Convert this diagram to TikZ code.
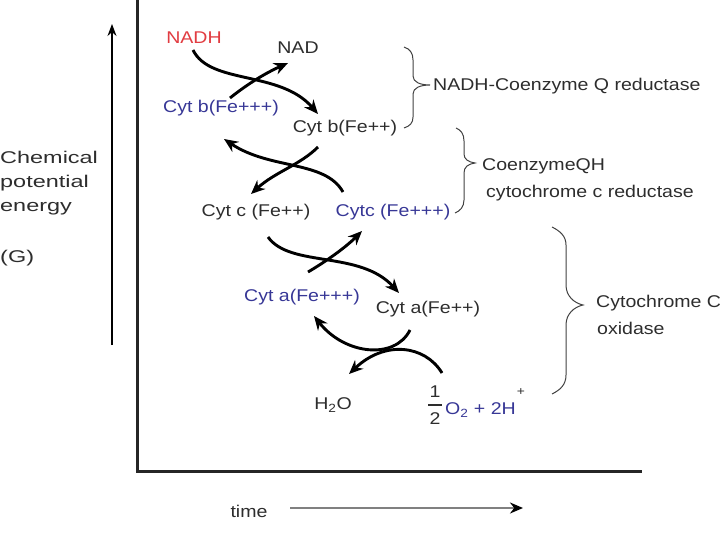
\documentclass[tikz,border=0pt]{standalone}
\usepackage{fontspec}
\setmainfont{Liberation Sans}[FakeStretch=1.15]
\newfontfamily\leftfont{Liberation Sans}[FakeStretch=1.38]
\usetikzlibrary{arrows.meta}
\definecolor{cblue}{RGB}{55,55,150}
\definecolor{cred}{RGB}{225,60,65}
\definecolor{ctext}{RGB}{45,45,45}
\begin{document}
\begin{tikzpicture}[x=1pt,y=-1pt,font=\fontsize{17}{19}\selectfont,
  lbl/.style={text=ctext,inner sep=0pt},
  blu/.style={text=cblue,inner sep=0pt},
  rx/.style={line width=2.9pt,-{Stealth[length=14pt,width=12pt]}},
  bracepath/.style={line width=1pt,draw=black!75},
  frame/.style={line width=3pt,draw=black!85}]
\useasboundingbox (0,0) rectangle (720,540);
% axes
\coordinate (ybot) at (112,345);
\coordinate (ytop) at (112,24);
\draw[line width=1.4pt,-{Stealth[length=12pt,width=9pt]}] (ybot) -- (ytop);
\coordinate (ftop) at (137,0);
\coordinate (fcorner) at (137,471);
\coordinate (fright) at (642,471);
\draw[frame] (ftop) -- (fcorner) -- (fright);
% left label
\node[lbl,anchor=west,font=\leftfont\fontsize{17}{19}\selectfont] (chem) at (0,157) {Chemical};
\node[lbl,anchor=west,font=\leftfont\fontsize{17}{19}\selectfont] (pot) at (0,183) {potential};
\node[lbl,anchor=west,font=\leftfont\fontsize{17}{19}\selectfont] (ener) at (0,209) {energy};
\node[lbl,anchor=west,font=\leftfont\fontsize{17}{19}\selectfont] (gG) at (0,258) {(G)};
% time
\node[lbl] (time) at (249,511) {time};
\coordinate (t1) at (290,508);
\coordinate (t2) at (523,508);
\draw[line width=2.6pt,draw=black!50,-{Stealth[length=13pt,width=11pt,black]}] (t1) -- (t2);
% species
\node[inner sep=0pt,text=cred] (nadh) at (194,38) {NADH};
\node[lbl] (nad) at (298,48) {NAD};
\node[blu] (cbp) at (221,108) {Cyt b(Fe+++)};
\node[lbl] (cbr) at (345,128) {Cyt b(Fe++)};
\node[lbl] (ccr) at (256,212) {Cyt c (Fe++)};
\node[blu] (ccp) at (393,212) {Cytc (Fe+++)};
\node[blu] (cap) at (302,297) {Cyt a(Fe+++)};
\node[lbl] (car) at (428,309) {Cyt a(Fe++)};
\node[lbl] (h2o) at (333,405) {H\textsubscript{2}O};
\node[lbl] (one) at (435,392) {1};
\node[lbl] (two) at (435,419) {2};
\coordinate (fb1) at (428,405);
\coordinate (fb2) at (442,405);
\draw[line width=1.2pt,draw=ctext] (fb1) -- (fb2);
\node[blu,anchor=west] (o2) at (445,410) {O\textsubscript{2} + 2H};
\node[lbl] (hplus) at (521,392) {\fontsize{12}{12}\selectfont +};
% enzyme labels
\node[lbl,anchor=west] (e1) at (433,86) {NADH-Coenzyme Q reductase};
\node[lbl,anchor=west] (e2a) at (482,166) {CoenzymeQH};
\node[lbl,anchor=west] (e2b) at (486,193) {cytochrome c reductase};
\node[lbl,anchor=west] (e3a) at (596,303) {Cytochrome C};
\node[lbl,anchor=west] (e3b) at (597,328) {oxidase};
% braces
\draw[bracepath] (404,47) .. controls (410,49) and (413,53) .. (413,60) -- (413,76)
  .. controls (413,82) and (420,85) .. (430,85)
  .. controls (420,85) and (413,88) .. (413,94) -- (413,117)
  .. controls (413,123) and (410,126) .. (404,128);
\draw[bracepath] (456,128) .. controls (461,130) and (464,134) .. (464,141) -- (464,154)
  .. controls (464,159) and (468,162) .. (475,163)
  .. controls (468,164) and (464,167) .. (464,173) -- (464,200)
  .. controls (464,207) and (460,211) .. (455,213);
\draw[bracepath] (552,227) .. controls (560,231) and (566,236) .. (566,245) -- (566,285)
  .. controls (566,296) and (574,303) .. (583,305)
  .. controls (574,307) and (566,314) .. (566,325) -- (566,375)
  .. controls (566,385) and (560,390) .. (552,394);
% reaction arrows
\coordinate (a1s) at (193,50);  \coordinate (a1e) at (318,114);
\coordinate (b1s) at (230,98);  \coordinate (b1e) at (288,63);
\draw[rx] (a1s) .. controls (210,85) and (280,70) .. (a1e);
\draw[rx] (b1s) .. controls (250,82) and (268,72) .. (b1e);
\coordinate (a2s) at (318,147); \coordinate (a2e) at (251,194);
\coordinate (b2s) at (343,192); \coordinate (b2e) at (224,139);
\draw[rx] (a2s) .. controls (300,165) and (275,172) .. (a2e);
\draw[rx] (b2s) .. controls (325,160) and (270,170) .. (b2e);
\coordinate (a3s) at (268,237); \coordinate (a3e) at (399,293);
\coordinate (b3s) at (308,272); \coordinate (b3e) at (362,231);
\draw[rx] (a3s) .. controls (290,268) and (360,250) .. (a3e);
\draw[rx] (b3s) .. controls (325,262) and (345,248) .. (b3e);
\coordinate (a4s) at (442,373); \coordinate (a4e) at (349,374);
\coordinate (b4s) at (410,330); \coordinate (b4e) at (314,316);
\draw[rx] (a4s) .. controls (425,345) and (385,340) .. (a4e);
\draw[rx] (b4s) .. controls (395,360) and (345,355) .. (b4e);
\end{tikzpicture}
\end{document}
